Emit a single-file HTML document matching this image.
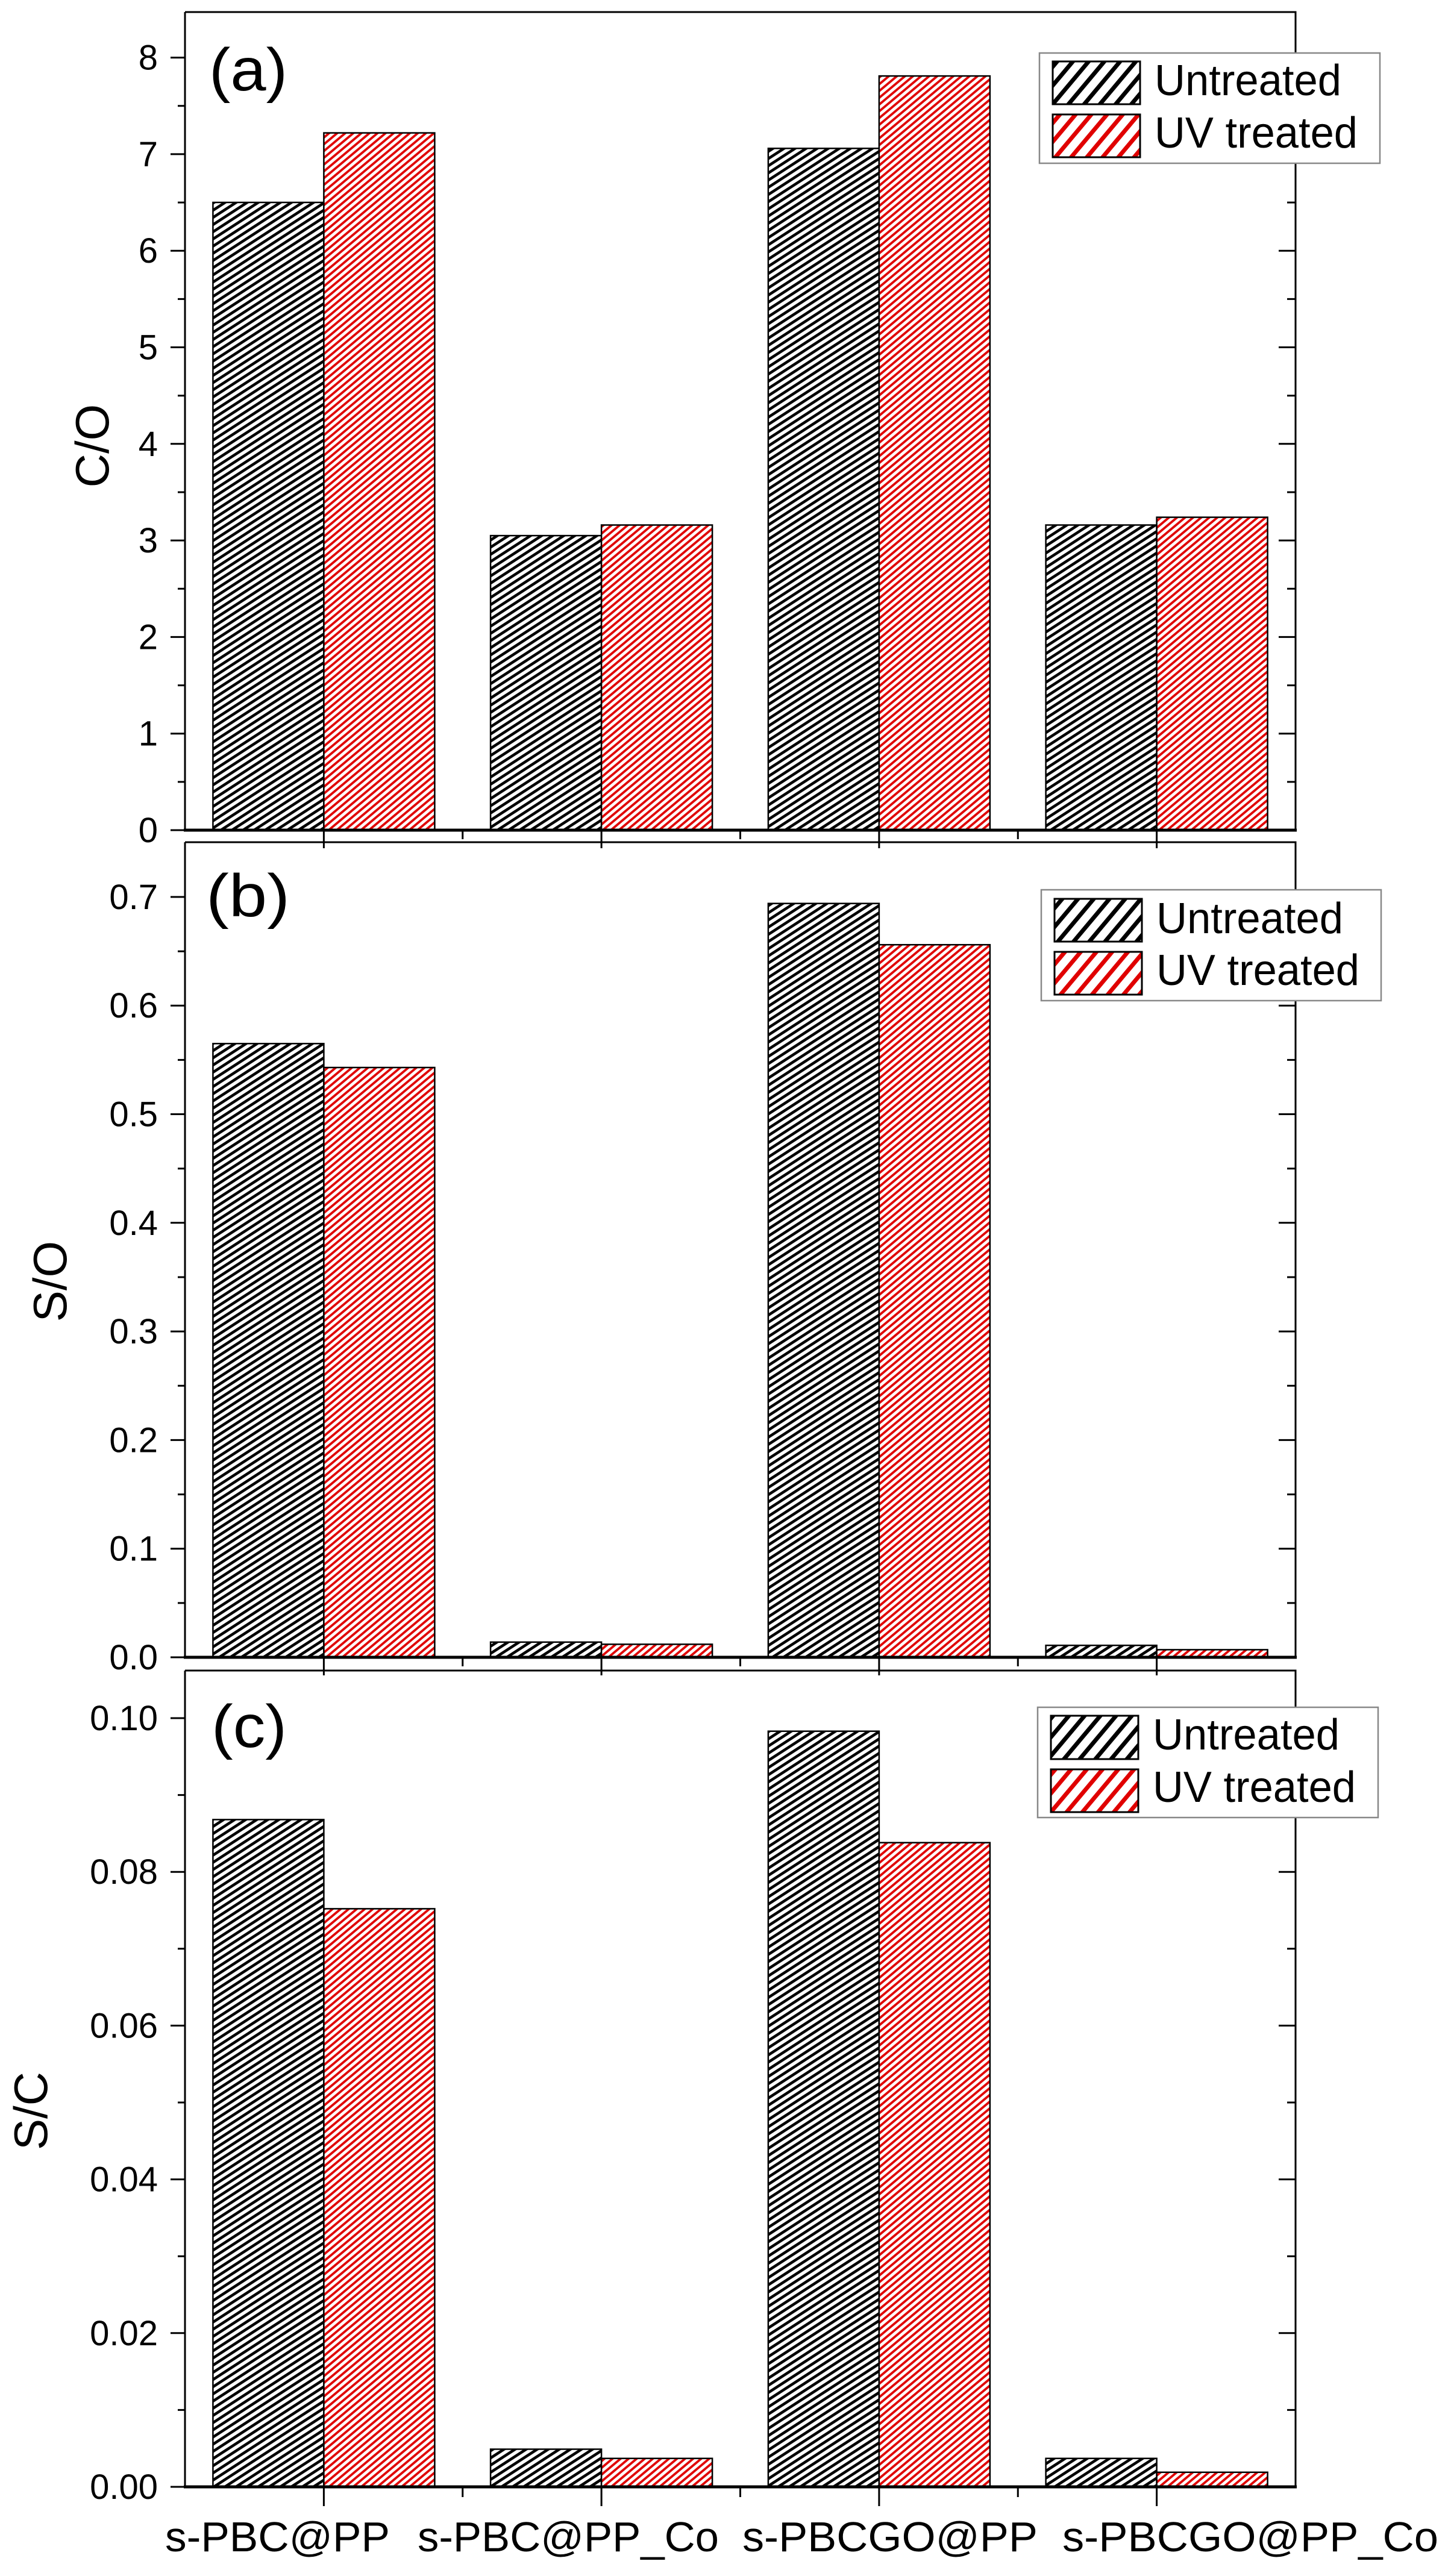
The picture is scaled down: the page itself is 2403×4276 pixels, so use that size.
<!DOCTYPE html>
<html><head><meta charset="utf-8"><style>html,body{margin:0;padding:0;background:#fff}svg{display:block}</style></head>
<body>
<svg width="2403" height="4276" viewBox="0 0 2403 4276" xmlns="http://www.w3.org/2000/svg" font-family="'Liberation Sans', Arial, sans-serif">
<defs>
<pattern id="hb" patternUnits="userSpaceOnUse" width="40" height="10" patternTransform="rotate(-33)"><rect width="40" height="10" fill="#fff"/><rect y="3" width="40" height="4.6" fill="#000"/></pattern>
<pattern id="hr" patternUnits="userSpaceOnUse" width="40" height="8.6" patternTransform="rotate(-40)"><rect width="40" height="8.6" fill="#fff"/><rect y="2.5" width="40" height="3.8" fill="#e00000"/></pattern>
<pattern id="lb" patternUnits="userSpaceOnUse" width="60" height="20" patternTransform="rotate(-50)"><rect width="60" height="20" fill="#fff"/><rect y="6" width="60" height="7" fill="#000"/></pattern>
<pattern id="lr" patternUnits="userSpaceOnUse" width="60" height="20" patternTransform="rotate(-50)"><rect width="60" height="20" fill="#fff"/><rect y="6" width="60" height="7" fill="#e00000"/></pattern>
</defs>
<rect width="2403" height="4276" fill="#fff"/>

<!-- ===== Panel A ===== -->
<g stroke="#000" stroke-width="2.5">
<rect x="353.4" y="336" width="184" height="1042" fill="url(#hb)"/>
<rect x="537.4" y="220.6" width="184" height="1157.4" fill="url(#hr)"/>
<rect x="814.1" y="889.1" width="184" height="488.9" fill="url(#hb)"/>
<rect x="998.1" y="871.5" width="184" height="506.5" fill="url(#hr)"/>
<rect x="1274.9" y="246.3" width="184" height="1131.7" fill="url(#hb)"/>
<rect x="1458.9" y="126.1" width="184" height="1251.9" fill="url(#hr)"/>
<rect x="1735.6" y="871.5" width="184" height="506.5" fill="url(#hb)"/>
<rect x="1919.6" y="858.6" width="184" height="519.4" fill="url(#hr)"/>
</g>
<g stroke="#000" fill="none">
<path d="M307 20 H2150 V1378 M307 20 V1378" stroke-width="3"/>
<path d="M305 1378 H2152" stroke-width="5"/>
<path stroke-width="3" d="M283 1378H307M283 1217.7H307M283 1057.4H307M283 897.1H307M283 736.8H307M283 576.5H307M283 416.2H307M283 255.9H307M283 95.6H307
M295 1297.9H307M295 1137.6H307M295 977.3H307M295 817H307M295 656.7H307M295 496.4H307M295 336.1H307M295 175.8H307
M2122 1217.7H2150M2122 1057.4H2150M2122 897.1H2150M2122 736.8H2150M2122 576.5H2150M2122 416.2H2150M2122 255.9H2150M2122 95.6H2150
M2136 1297.9H2150M2136 1137.6H2150M2136 977.3H2150M2136 817H2150M2136 656.7H2150M2136 496.4H2150M2136 336.1H2150M2136 175.8H2150
M537.4 1378V1408M998.1 1378V1408M1458.9 1378V1408M1919.6 1378V1408
M767.75 1378V1393M1228.5 1378V1393M1689.25 1378V1393"/>
</g>
<g font-size="58" text-anchor="end" fill="#000">
<text x="262" y="1398">0</text><text x="262" y="1237.7">1</text><text x="262" y="1077.4">2</text><text x="262" y="917.1">3</text><text x="262" y="756.8">4</text><text x="262" y="596.5">5</text><text x="262" y="436.2">6</text><text x="262" y="275.9">7</text><text x="262" y="115.6">8</text>
</g>
<text transform="translate(180,740) rotate(-90)" font-size="78" text-anchor="middle">C/O</text>
<text x="347" y="150" font-size="100" textLength="130" lengthAdjust="spacingAndGlyphs">(a)</text>
<rect x="1725" y="88" width="565" height="183" fill="#fff" stroke="#888" stroke-width="2.5"/>
<rect x="1747" y="102" width="145" height="71" fill="url(#lb)" stroke="#000" stroke-width="3"/>
<rect x="1747" y="190" width="145" height="71" fill="url(#lr)" stroke="#000" stroke-width="3"/>
<text x="1916" y="158" font-size="72" textLength="310" lengthAdjust="spacingAndGlyphs">Untreated</text>
<text x="1916" y="245" font-size="72" textLength="337" lengthAdjust="spacingAndGlyphs">UV treated</text>

<!-- ===== Panel B ===== -->
<g stroke="#000" stroke-width="2.5">
<rect x="353.4" y="1732.3" width="184" height="1018.7" fill="url(#hb)"/>
<rect x="537.4" y="1772" width="184" height="979" fill="url(#hr)"/>
<rect x="814.1" y="2725.8" width="184" height="25.2" fill="url(#hb)"/>
<rect x="998.1" y="2729.4" width="184" height="21.6" fill="url(#hr)"/>
<rect x="1274.9" y="1499.7" width="184" height="1251.3" fill="url(#hb)"/>
<rect x="1458.9" y="1568.2" width="184" height="1182.8" fill="url(#hr)"/>
<rect x="1735.6" y="2731.2" width="184" height="19.8" fill="url(#hb)"/>
<rect x="1919.6" y="2738.4" width="184" height="12.6" fill="url(#hr)"/>
</g>
<g stroke="#000" fill="none">
<path d="M307 1398 H2150 V2751 M307 1398 V2751" stroke-width="3"/>
<path d="M305 2751 H2152" stroke-width="5"/>
<path stroke-width="3" d="M283 2751H307M283 2570.7H307M283 2390.4H307M283 2210.1H307M283 2029.8H307M283 1849.5H307M283 1669.2H307M283 1488.9H307
M295 2660.9H307M295 2480.6H307M295 2300.3H307M295 2120H307M295 1939.7H307M295 1759.4H307M295 1579.1H307
M2122 2570.7H2150M2122 2390.4H2150M2122 2210.1H2150M2122 2029.8H2150M2122 1849.5H2150M2122 1669.2H2150M2122 1488.9H2150
M2136 2660.9H2150M2136 2480.6H2150M2136 2300.3H2150M2136 2120H2150M2136 1939.7H2150M2136 1759.4H2150M2136 1579.1H2150
M537.4 2751V2781M998.1 2751V2781M1458.9 2751V2781M1919.6 2751V2781
M767.75 2751V2766M1228.5 2751V2766M1689.25 2751V2766"/>
</g>
<g font-size="58" text-anchor="end" fill="#000">
<text x="262" y="2771">0.0</text><text x="262" y="2590.7">0.1</text><text x="262" y="2410.4">0.2</text><text x="262" y="2230.1">0.3</text><text x="262" y="2049.8">0.4</text><text x="262" y="1869.5">0.5</text><text x="262" y="1689.2">0.6</text><text x="262" y="1508.9">0.7</text>
</g>
<text transform="translate(110,2127) rotate(-90)" font-size="78" text-anchor="middle">S/O</text>
<text x="342" y="1521" font-size="100" textLength="139" lengthAdjust="spacingAndGlyphs">(b)</text>
<rect x="1728" y="1477" width="564" height="184" fill="#fff" stroke="#888" stroke-width="2.5"/>
<rect x="1750" y="1492" width="145" height="71" fill="url(#lb)" stroke="#000" stroke-width="3"/>
<rect x="1750" y="1580" width="145" height="71" fill="url(#lr)" stroke="#000" stroke-width="3"/>
<text x="1919" y="1549" font-size="72" textLength="310" lengthAdjust="spacingAndGlyphs">Untreated</text>
<text x="1919" y="1635" font-size="72" textLength="337" lengthAdjust="spacingAndGlyphs">UV treated</text>

<!-- ===== Panel C ===== -->
<g stroke="#000" stroke-width="2.5">
<rect x="353.4" y="3020.4" width="184" height="1107.6" fill="url(#hb)"/>
<rect x="537.4" y="3168.4" width="184" height="959.6" fill="url(#hr)"/>
<rect x="814.1" y="4065.5" width="184" height="62.5" fill="url(#hb)"/>
<rect x="998.1" y="4080.8" width="184" height="47.2" fill="url(#hr)"/>
<rect x="1274.9" y="2873.7" width="184" height="1254.3" fill="url(#hb)"/>
<rect x="1458.9" y="3058.7" width="184" height="1069.3" fill="url(#hr)"/>
<rect x="1735.6" y="4080.8" width="184" height="47.2" fill="url(#hb)"/>
<rect x="1919.6" y="4103.8" width="184" height="24.2" fill="url(#hr)"/>
</g>
<g stroke="#000" fill="none">
<path d="M307 2773 H2150 V4128 M307 2773 V4128" stroke-width="3"/>
<path d="M305 4128 H2152" stroke-width="5"/>
<path stroke-width="3" d="M283 4128H307M283 3872.8H307M283 3617.6H307M283 3362.4H307M283 3107.2H307M283 2852H307
M295 4000.4H307M295 3745.2H307M295 3490H307M295 3234.8H307M295 2979.6H307
M2122 3872.8H2150M2122 3617.6H2150M2122 3362.4H2150M2122 3107.2H2150M2122 2852H2150
M2136 4000.4H2150M2136 3745.2H2150M2136 3490H2150M2136 3234.8H2150M2136 2979.6H2150
M537.4 4128V4160M998.1 4128V4160M1458.9 4128V4160M1919.6 4128V4160
M767.75 4128V4145M1228.5 4128V4145M1689.25 4128V4145"/>
</g>
<g font-size="58" text-anchor="end" fill="#000">
<text x="262" y="4148">0.00</text><text x="262" y="3892.8">0.02</text><text x="262" y="3637.6">0.04</text><text x="262" y="3382.4">0.06</text><text x="262" y="3127.2">0.08</text><text x="262" y="2872">0.10</text>
</g>
<text transform="translate(78,3504) rotate(-90)" font-size="78" text-anchor="middle">S/C</text>
<text x="351" y="2900" font-size="100" textLength="125" lengthAdjust="spacingAndGlyphs">(c)</text>
<rect x="1722" y="2834" width="565" height="183" fill="#fff" stroke="#888" stroke-width="2.5"/>
<rect x="1744" y="2848" width="145" height="72" fill="url(#lb)" stroke="#000" stroke-width="3"/>
<rect x="1744" y="2937" width="145" height="71" fill="url(#lr)" stroke="#000" stroke-width="3"/>
<text x="1913" y="2904" font-size="72" textLength="310" lengthAdjust="spacingAndGlyphs">Untreated</text>
<text x="1913" y="2991" font-size="72" textLength="337" lengthAdjust="spacingAndGlyphs">UV treated</text>

<!-- category labels -->
<g font-size="70" fill="#000">
<text x="274" y="4235" textLength="373" lengthAdjust="spacingAndGlyphs">s-PBC@PP</text>
<text x="693" y="4235" textLength="500" lengthAdjust="spacingAndGlyphs">s-PBC@PP_Co</text>
<text x="1232" y="4235" textLength="490" lengthAdjust="spacingAndGlyphs">s-PBCGO@PP</text>
<text x="1763" y="4235" textLength="624" lengthAdjust="spacingAndGlyphs">s-PBCGO@PP_Co</text>
</g>
</svg>
</body></html>
